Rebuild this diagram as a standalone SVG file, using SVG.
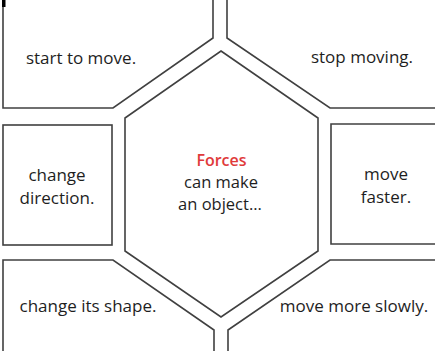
<svg xmlns="http://www.w3.org/2000/svg" width="441" height="351" viewBox="0 0 441 351">
<style>
.p{fill:#fff;stroke:#404040;stroke-width:1.6;stroke-linejoin:miter}
.t{font-family:"Open Sans","Noto Sans",sans-serif;font-size:17px;fill:#1e1e1e;text-anchor:middle}
.c{font-size:16.5px}
.r{fill:#e03a3a;font-weight:600;font-size:16px}
</style>
<rect width="441" height="351" fill="#fff"/>
<g id="connectors"></g>
<g id="topLeft">
<path class="p" d="M3,0 V108 H113 L213,38 V0"/>
<rect x="2" y="0" width="3.5" height="7" fill="#000"/>
<text class="t" x="81" y="64">start to move.</text>
</g>
<g id="topRight">
<path class="p" d="M227,0 V38 L330,108 H435"/>
<text class="t" x="362" y="63">stop moving.</text>
</g>
<g id="midLeft">
<rect class="p" x="3" y="125" width="109" height="120"/>
<text class="t" x="57" y="181">change</text>
<text class="t" x="57" y="204">direction.</text>
</g>
<g id="midRight">
<path class="p" d="M435,124 H331 V244 H435"/>
<text class="t" x="386" y="180">move</text>
<text class="t" x="386" y="203">faster.</text>
</g>
<g id="bottomLeft">
<path class="p" d="M3,351 V260 H113 L214,330 V351"/>
<text class="t" x="88" y="312">change its shape.</text>
</g>
<g id="bottomRight">
<path class="p" d="M435,260 H330 L228,330 V351"/>
<text class="t" x="354" y="312">move more slowly.</text>
</g>
<g id="center">
<polygon class="p" points="221,51 318,118 318,251 221,317 125,251 125,118"/>
<text class="t r" x="221.5" y="166">Forces</text>
<text class="t c" x="221" y="188">can make</text>
<text class="t c" x="220" y="210">an object...</text>
</g>
</svg>
